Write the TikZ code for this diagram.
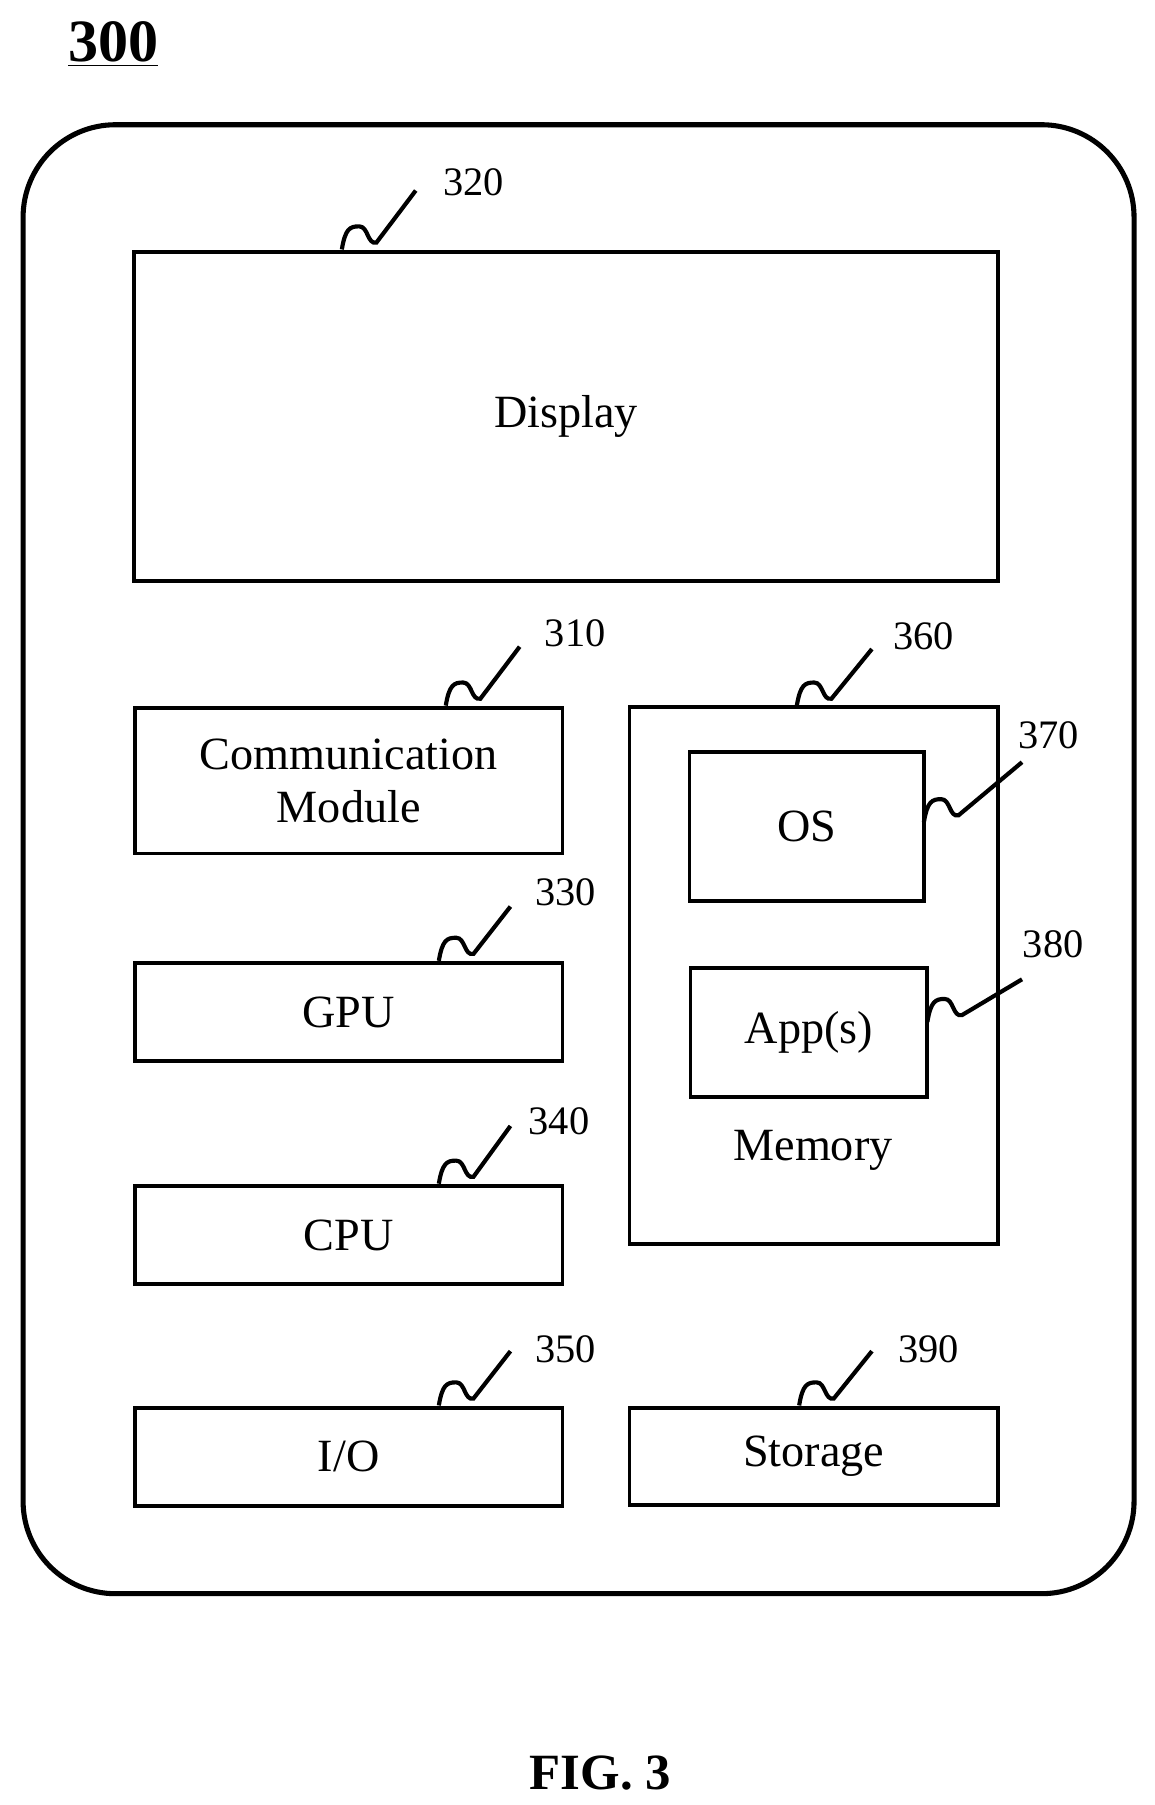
\documentclass[tikz,border=0pt]{standalone}
\usepackage{fontspec}
\setmainfont{Liberation Serif}
\usetikzlibrary{fit,calc}
\newcommand{\sq}[2]{\draw[sqline] (#1) .. controls +(3,-18) and +(-8,0) .. ($(#1)+(15,-20)$) .. controls +(8,0) and +(-8,2) .. ($(#1)+(30,-6)$) -- (#2);}
\begin{document}
\begin{tikzpicture}[x={(0.5pt,0)},y={(0,-0.5pt)},
 box/.style={draw,line width=1.6pt,inner sep=0pt},
 sqline/.style={line width=1.8pt},
 lbl/.style={font=\fontsize{17.5}{19}\selectfont},
 txt/.style={font=\fontsize{20}{23}\selectfont,align=center}]
\useasboundingbox (0,0) rectangle (1000,1563);
\node[font=\fontsize{26}{28}\selectfont\bfseries] (t) at (98,38) {\underline{300}};
\draw[line width=2.2pt,rounded corners=40pt] (20,108) rectangle (982,1380);
\node[box,fit={(116,218)(864,503)}] (disp) {};
\node[txt] at (disp.center) {Display};
\node[box,fit={(117,613)(487,739)}] (comm) {};
\node[txt] at (comm.center) {Communication\\Module};
\node[box,fit={(117,834)(487,919)}] (gpu) {};
\node[txt] at (gpu.center) {GPU};
\node[box,fit={(117,1027)(487,1112)}] (cpu) {};
\node[txt] at (cpu.center) {CPU};
\node[box,fit={(117,1219)(487,1304)}] (io) {};
\node[txt] at (io.center) {I/O};
\node[box,fit={(545,612)(864,1077)}] (mem) {};
\node[txt] (memt) at (704,996) {Memory};
\node[box,fit={(597,651)(800,780)}] (os) {};
\node[txt] at (os.center) {OS};
\node[box,fit={(598,838)(803,950)}] (app) {};
\node[txt] at (app.center) {App(s)};
\node[box,fit={(545,1219)(864,1303)}] (sto) {};
\node[txt] at (sto.center) {Storage};
\node[font=\fontsize{22}{24}\selectfont\bfseries] (fig) at (520,1535) {FIG. 3};
% reference labels
\coordinate (s320) at (296,216); \coordinate (e320) at (360,165); \node[lbl] (l320) at (410,158) {320};
\coordinate (s310) at (386,611); \coordinate (e310) at (450,560); \node[lbl] (l310) at (498,548) {310};
\coordinate (s360) at (690,611); \coordinate (e360) at (755,562); \node[lbl] (l360) at (800,551) {360};
\coordinate (s330) at (380,832); \coordinate (e330) at (442,785); \node[lbl] (l330) at (490,773) {330};
\coordinate (s340) at (380,1025); \coordinate (e340) at (442,975); \node[lbl] (l340) at (484,971) {340};
\coordinate (s350) at (380,1217); \coordinate (e350) at (442,1170); \node[lbl] (l350) at (490,1168) {350};
\coordinate (s390) at (692,1217); \coordinate (e390) at (755,1170); \node[lbl] (l390) at (804,1168) {390};
\coordinate (s370) at (800,712); \coordinate (e370) at (885,660); \node[lbl] (l370) at (908,637) {370};
\coordinate (s380) at (803,885); \coordinate (e380) at (885,848); \node[lbl] (l380) at (912,818) {380};
\sq{s320}{e320}\sq{s310}{e310}\sq{s360}{e360}\sq{s330}{e330}\sq{s340}{e340}
\sq{s350}{e350}\sq{s390}{e390}\sq{s370}{e370}\sq{s380}{e380}
\end{tikzpicture}
\end{document}
